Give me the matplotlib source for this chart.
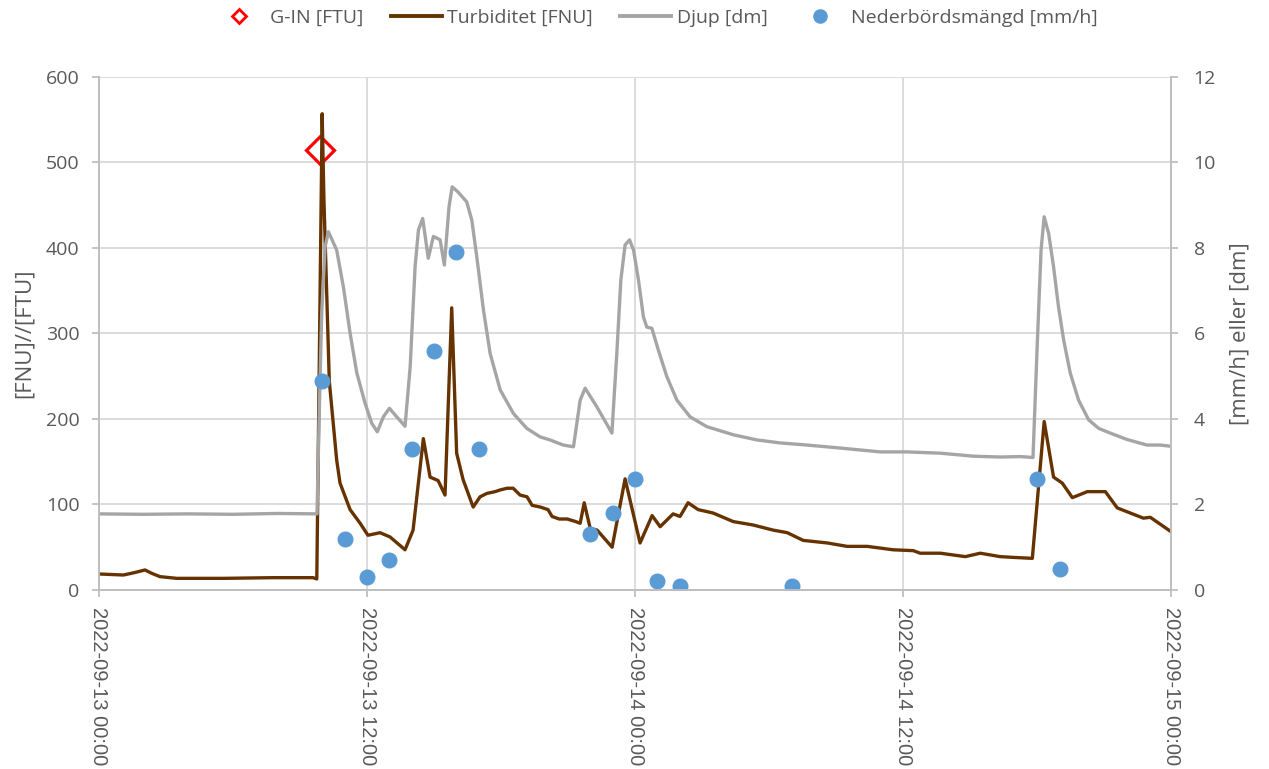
import matplotlib
matplotlib.use("Agg")
import matplotlib.pyplot as plt
import matplotlib.dates as mdates
from matplotlib.lines import Line2D
import pandas as pd

START = pd.Timestamp("2022-09-13 00:00")

# Turbiditet [FNU] (hours from start, value)
turb_hours = [0.00, 1.09, 1.54, 2.06, 2.36, 2.73, 3.48, 5.56, 7.80, 9.58, 9.75, 9.99,
              10.07, 10.31, 10.64, 10.79, 11.24, 11.69, 12.04, 12.58, 13.03, 13.70, 14.06,
              14.52, 14.82, 15.18, 15.49, 15.79, 16.01, 16.30, 16.75, 17.06, 17.37, 17.73,
              17.96, 18.27, 18.54, 18.85, 19.16, 19.39, 19.75, 20.10, 20.28, 20.60, 20.96,
              21.34, 21.54, 21.72, 21.99, 22.30, 22.97, 23.55, 24.22, 24.76, 25.12, 25.70,
              26.01, 26.37, 26.82, 27.49, 28.39, 29.28, 30.18, 30.81, 31.52, 32.60, 33.49,
              34.39, 35.55, 36.45, 36.76, 37.66, 38.78, 39.45, 40.34, 41.01, 41.78, 42.31,
              42.73, 43.12, 43.57, 44.24, 45.05, 45.58, 46.75, 47.06, 48.00]
turb_values = [18.7, 17.5, 20, 23.4, 19.5, 15.6, 13.6, 13.6, 14.4, 14.4, 12.9, 557,
               456, 244, 152, 125, 94, 78, 64, 67, 62, 47, 70,
               177, 132, 128, 111, 330, 160, 129, 97, 109, 113, 115,
               117, 119, 119, 111, 109, 99, 97, 94, 86, 83, 83,
               80, 78, 102, 72, 70, 50, 130, 55, 87, 74, 89,
               86, 102, 94, 90, 80, 76, 70, 67, 58, 55, 51,
               51, 47, 46, 43, 43, 39, 43, 39, 38, 37, 197,
               132, 125, 108, 115, 115, 96, 84, 85, 68]

# Djup [dm]
djup_hours = [0.00, 2.0, 4.0, 6.0, 8.0, 9.76, 9.86, 9.97, 10.12, 10.27, 10.64, 10.94,
              11.24, 11.54, 11.91, 12.21, 12.46, 12.73, 13.00, 13.33, 13.70, 13.93, 14.15,
              14.30, 14.49, 14.74, 14.97, 15.27, 15.46, 15.67, 15.81, 16.07, 16.46, 16.69,
              16.91, 17.21, 17.51, 17.96, 18.55, 19.15, 19.75, 20.19, 20.78, 21.24, 21.54,
              21.76, 22.28, 22.96, 23.18, 23.36, 23.55, 23.75, 23.93, 24.15, 24.37, 24.52,
              24.75, 25.04, 25.42, 25.87, 26.46, 27.21, 28.40, 29.45, 30.49, 31.70, 33.18,
              34.97, 36.18, 37.66, 39.13, 40.34, 41.24, 41.81, 41.99, 42.17, 42.31, 42.51,
              42.73, 42.95, 43.18, 43.48, 43.85, 44.30, 44.75, 45.27, 46.02, 46.91, 47.51,
              48.00]
djup_values = [1.78, 1.77, 1.78, 1.77, 1.79, 1.78, 4.14, 6.48, 8.02, 8.38, 7.95, 7.09,
               6.01, 5.08, 4.37, 3.90, 3.70, 4.05, 4.25, 4.05, 3.83, 5.22, 7.56,
               8.42, 8.69, 7.76, 8.27, 8.19, 7.60, 8.97, 9.43, 9.31, 9.08, 8.65,
               7.80, 6.55, 5.53, 4.68, 4.13, 3.78, 3.58, 3.51, 3.39, 3.35, 4.44,
               4.72, 4.29, 3.67, 5.54, 7.25, 8.07, 8.19, 7.95, 7.25, 6.39, 6.15,
               6.12, 5.61, 4.99, 4.44, 4.05, 3.82, 3.63, 3.51, 3.44, 3.39, 3.32,
               3.23, 3.23, 3.20, 3.13, 3.11, 3.12, 3.10, 5.61, 7.95, 8.73, 8.34,
               7.56, 6.63, 5.85, 5.07, 4.44, 3.98, 3.78, 3.67, 3.52, 3.39, 3.39,
               3.36]

# Nederbördsmängd [mm/h]
rain_hours = [10, 11, 12, 13, 14, 15, 16, 17, 22, 23, 24, 25, 26, 31, 42, 43]
rain_values = [4.9, 1.2, 0.3, 0.7, 3.3, 5.6, 7.9, 3.3, 1.3, 1.8, 2.6, 0.2, 0.1, 0.1, 2.6, 0.5]

# G-IN [FTU]
gin_hours = [9.9]
gin_values = [515]


def to_time(hours):
    return START + pd.to_timedelta(hours, unit="h")


plt.rcParams["font.family"] = ["Open Sans", "DejaVu Sans"]
TEXT = "#595959"
GRID = "#D9D9D9"
AXIS = "#BFBFBF"

fig = plt.figure(figsize=(12.69, 7.69), dpi=100)
ax = fig.add_axes([0.078, 0.2328, 0.845, 0.6671])
ax2 = ax.twinx()

ax.plot(to_time(gin_hours), gin_values, linestyle="none", marker="D", markersize=14,
        markerfacecolor="white", markeredgecolor="#FF0000", markeredgewidth=2.3, zorder=3)
ax.plot(to_time(turb_hours), turb_values, color="#663300", linewidth=2.4, zorder=4)
ax2.plot(to_time(djup_hours), djup_values, color="#A5A5A5", linewidth=2.4)
ax2.plot(to_time(rain_hours), rain_values, linestyle="none", marker="o", markersize=10.5,
         color="#5B9BD5")

ax.set_xlim(START, START + pd.Timedelta(hours=48))
ax.set_ylim(0, 600)
ax2.set_ylim(0, 12)
ax.set_yticks(range(0, 601, 100))
ax2.set_yticks(range(0, 13, 2))
ax.xaxis.set_major_locator(mdates.HourLocator(byhour=[0, 12]))
ax.xaxis.set_major_formatter(mdates.DateFormatter("%Y-%m-%d %H:%M"))

ax.grid(True, color=GRID, linewidth=1.3)
ax.set_axisbelow(True)
for a in (ax, ax2):
    a.spines["top"].set_visible(False)
    for s in ("left", "right", "bottom"):
        a.spines[s].set_color(AXIS)
        a.spines[s].set_linewidth(1.3)
    a.tick_params(colors=TEXT, labelsize=14, length=5, width=1.3)
    a.tick_params(axis="both", color=AXIS)
ax.tick_params(axis="y", pad=9)
ax2.tick_params(axis="y", pad=11)
ax.tick_params(axis="x", pad=7)
for lab in ax.get_xticklabels():
    lab.set_rotation(270)
    lab.set_va("top")
    lab.set_ha("center")
    lab.set_family(["Liberation Sans", "DejaVu Sans"])
    lab.set_fontsize(14.5)

ax.set_ylabel("[FNU]//[FTU]", color=TEXT, fontsize=16, labelpad=8)
ax2.set_ylabel("[mm/h] eller [dm]", color=TEXT, fontsize=16, rotation=90, labelpad=10)

handles = [
    Line2D([], [], linestyle="none", marker="D", markersize=7.5, markerfacecolor="white",
           markeredgecolor="#FF0000", markeredgewidth=2),
    Line2D([], [], color="#663300", linewidth=2.8),
    Line2D([], [], color="#A5A5A5", linewidth=2.8),
    Line2D([], [], linestyle="none", marker="o", markersize=9.5, color="#5B9BD5"),
]
labels = ["G-IN [FTU]", "Turbiditet [FNU]", "Djup [dm]", "Nederbördsmängd [mm/h]"]
leg = fig.legend(handles, labels, loc="center", bbox_to_anchor=(0.517, 0.977), ncol=4,
                 frameon=False, fontsize=14, handlelength=2.6, columnspacing=1.4,
                 handletextpad=0.3)
for t in leg.get_texts():
    t.set_color(TEXT)

fig.savefig("out.png", dpi=100)
